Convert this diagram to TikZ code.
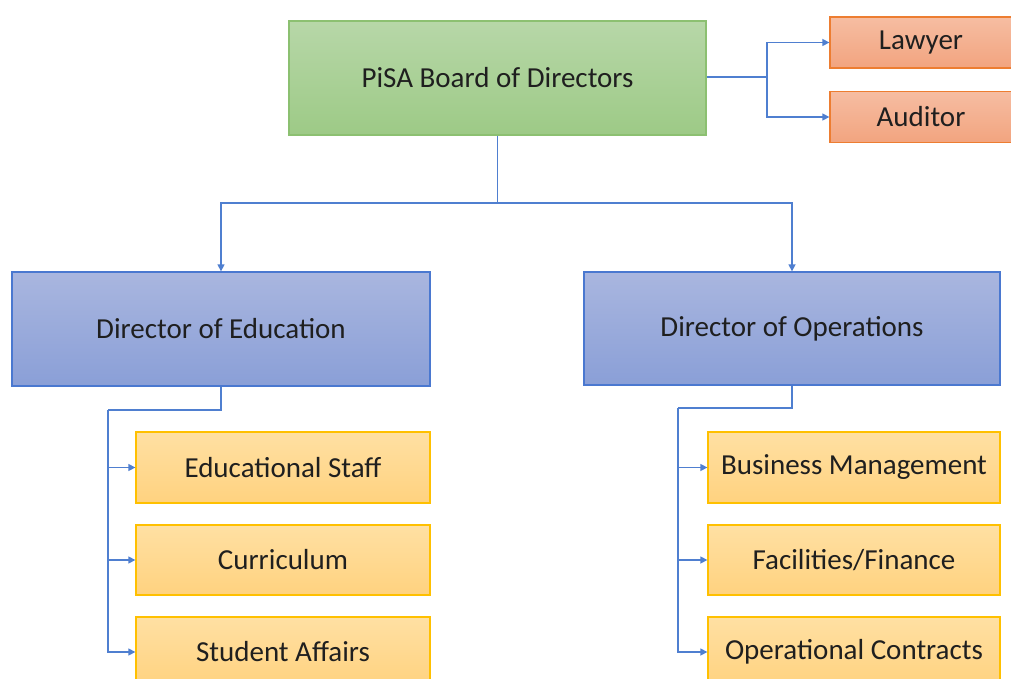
\documentclass[tikz,border=0pt]{standalone}
\usepackage{fontspec}
\setmainfont{Carlito}
\usetikzlibrary{arrows.meta}
\definecolor{linkblue}{HTML}{4F7FD0}
\definecolor{greentop}{HTML}{B7D7A8}
\definecolor{greenbot}{HTML}{9DCA86}
\definecolor{greenline}{HTML}{8CC071}
\definecolor{orangetop}{HTML}{F6BDA2}
\definecolor{orangebot}{HTML}{F2A47F}
\definecolor{orangeline}{HTML}{ED7D31}
\definecolor{bluetop}{HTML}{A9B6DF}
\definecolor{bluebot}{HTML}{8A9FD7}
\definecolor{blueline}{HTML}{4A78D0}
\definecolor{yellowtop}{HTML}{FFE0A3}
\definecolor{yellowbot}{HTML}{FFD27F}
\definecolor{yellowline}{HTML}{FFC000}
\begin{document}
\begin{tikzpicture}[x=1pt,y=-1pt,
  box/.style={rectangle, draw, line width=1.3pt, inner sep=0pt,
    font=\fontsize{29}{34}\selectfont, text=black!88},
  greenbox/.style={box, draw=greenline, top color=greentop, bottom color=greenbot},
  orangebox/.style={box, draw=orangeline, top color=orangetop, bottom color=orangebot},
  bluebox/.style={box, draw=blueline, top color=bluetop, bottom color=bluebot},
  yellowbox/.style={box, draw=yellowline, top color=yellowtop, bottom color=yellowbot},
  conn/.style={draw=linkblue, line width=1.4pt},
  arr/.style={conn, -{Triangle[length=7pt,width=7pt]}}]
\clip (0,0) rectangle (1011,679);
\fill[white] (0,0) rectangle (1011,679);

% top level and advisors
\node[greenbox, minimum width=417pt, minimum height=114pt] (board) at (497.5,78) {PiSA Board of Directors};
\node[orangebox, minimum width=182pt, minimum height=51pt] (lawyer) at (921,42.5) {Lawyer};
\node[orangebox, minimum width=182pt, minimum height=51pt] (auditor) at (921,117) {Auditor};

% directors
\node[bluebox, minimum width=418pt, minimum height=114pt] (educ) at (221,329) {Director of Education};
\node[bluebox, minimum width=416pt, minimum height=113pt] (ops) at (792,328.5) {Director of Operations};

% departments
\node[yellowbox, minimum width=294pt, minimum height=71pt] (staff) at (283,467.5) {Educational Staff};
\node[yellowbox, minimum width=294pt, minimum height=70pt] (curr) at (283,560) {Curriculum};
\node[yellowbox, minimum width=294pt, minimum height=70pt] (stud) at (283,652) {Student Affairs};
\node[yellowbox, minimum width=292pt, minimum height=71pt] (biz) at (854,467.5) {Business Management};
\node[yellowbox, minimum width=292pt, minimum height=70pt] (fac) at (854,560) {Facilities/Finance};
\node[yellowbox, minimum width=292pt, minimum height=70pt] (opc) at (854,652) {Operational Contracts};

% board to advisors
\coordinate (j1) at (767,77);
\draw[conn] (board.east |- j1) -- (j1);
\draw[arr] (j1) |- (lawyer.west);
\draw[arr] (j1) |- (auditor.west);

% board to directors
\coordinate (j2) at (497.5,203);
\draw[conn] (board.south) -- (j2);
\draw[arr] (j2) -| (educ.north);
\draw[arr] (j2) -| (ops.north);

% education departments
\coordinate (j3) at (108,410);
\draw[conn] (educ.south) |- (j3);
\draw[arr] (j3) |- (staff.west);
\draw[arr] (j3) |- (curr.west);
\draw[arr] (j3) |- (stud.west);

% operations departments
\coordinate (j4) at (678,408);
\draw[conn] (ops.south) |- (j4);
\draw[arr] (j4) |- (biz.west);
\draw[arr] (j4) |- (fac.west);
\draw[arr] (j4) |- (opc.west);
\end{tikzpicture}
\end{document}
